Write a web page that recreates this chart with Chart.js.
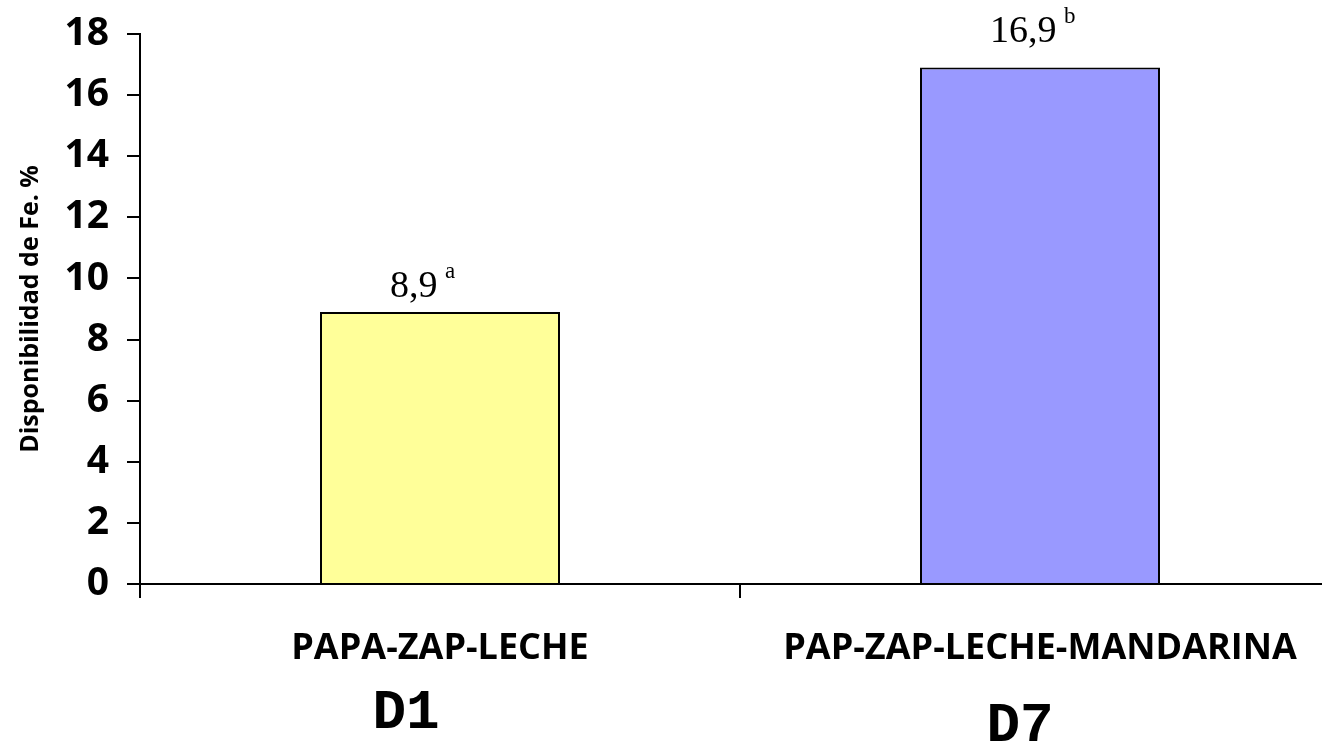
<!DOCTYPE html>
<html>
<head>
<meta charset="utf-8">
<script src="https://cdn.jsdelivr.net/npm/chart.js@4/dist/chart.umd.min.js"></script>
<style>
  html, body { margin: 0; padding: 0; background: #fff; overflow: hidden; }
  #wrap { width: 1322px; height: 747px; overflow: hidden; }
</style>
</head>
<body>
<div id="wrap"><canvas id="grafico" width="1340" height="747"></canvas></div>
<script>
// datos del grafico
const categorias = ['PAPA-ZAP-LECHE', 'PAP-ZAP-LECHE-MANDARINA'];
const codigos = ['D1', 'D7'];
const disponibilidad = [8.9, 16.9];
const etiquetas = ['8,9', '16,9'];
const letras = ['a', 'b'];
const colores = ['#FFFF99', '#9999FF'];

// etiquetas sobre las barras (valor + letra en superindice)
const pluginEtiquetas = {
  id: 'etiquetas',
  afterDatasetsDraw(chart) {
    const ctx = chart.ctx;
    const meta = chart.getDatasetMeta(0);
    const alto = [15, 26];
    ctx.save();
    ctx.fillStyle = '#000';
    ctx.textBaseline = 'alphabetic';
    ctx.textAlign = 'left';
    meta.data.forEach(function (barra, i) {
      let x = barra.x - 50;
      let y = barra.y - alto[i];
      ctx.font = '38px "Liberation Serif"';
      ctx.fillText(etiquetas[i], x, y);
      let w = ctx.measureText(etiquetas[i] + ' ').width;
      ctx.font = '23px "Liberation Serif"';
      ctx.fillText(letras[i], x + w - 2, y - 19);
    });
    ctx.restore();
  }
};

// codigos D1 / D7 debajo de las categorias
const pluginCodigos = {
  id: 'codigos',
  afterDraw(chart) {
    const ctx = chart.ctx;
    const escala = chart.scales.x;
    const dx = [-34, -20];
    const ys = [714, 727];
    ctx.save();
    ctx.fillStyle = '#000';
    ctx.font = 'bold 56px "Liberation Mono"';
    ctx.textAlign = 'center';
    ctx.textBaseline = 'middle';
    codigos.forEach(function (c, i) {
      ctx.fillText(c, escala.getPixelForValue(i) + dx[i], ys[i]);
    });
    ctx.restore();
  }
};

const config = {
  type: 'bar',
  data: {
    labels: categorias,
    datasets: [{
      label: 'Disponibilidad de Fe. %',
      data: disponibilidad,
      backgroundColor: colores,
      borderColor: '#000',
      borderWidth: 2,
      borderSkipped: 'bottom',
      barPercentage: 0.4,
      categoryPercentage: 1.0
    }]
  },
  options: {
    responsive: false,
    animation: false,
    layout: { padding: { top: 34, right: 0, left: 0, bottom: 0 } },
    plugins: {
      legend: { display: false },
      tooltip: { enabled: false }
    },
    scales: {
      x: {
        afterFit: function (s) {
          s.height = 163;
          s.paddingLeft = 0;
          s.paddingRight = 0;
        },
        grid: {
          offset: true,
          drawOnChartArea: false,
          color: '#000',
          lineWidth: 2,
          tickLength: 14
        },
        border: { color: '#000', width: 2 },
        ticks: {
          color: '#000',
          padding: 29,
          maxRotation: 0,
          font: { family: '"Open Sans"', weight: 'bold', size: 36 }
        }
      },
      y: {
        min: 0,
        max: 18,
        afterFit: function (s) {
          s.width = 140;
          s.paddingTop = 0;
          s.paddingBottom = 0;
        },
        grid: {
          drawOnChartArea: false,
          color: '#000',
          lineWidth: 2,
          tickLength: 13
        },
        border: { color: '#000', width: 2 },
        ticks: {
          stepSize: 2,
          color: '#000',
          padding: 18,
          font: { family: '"Open Sans"', weight: 'bold', size: 39 }
        },
        title: {
          display: true,
          text: 'Disponibilidad de Fe. %',
          color: '#000',
          padding: { top: 16, bottom: 0 },
          font: { family: '"Open Sans"', weight: 'bold', size: 25 }
        }
      }
    }
  },
  plugins: [pluginEtiquetas, pluginCodigos]
};

new Chart(document.getElementById('grafico'), config);
</script>
</body>
</html>
